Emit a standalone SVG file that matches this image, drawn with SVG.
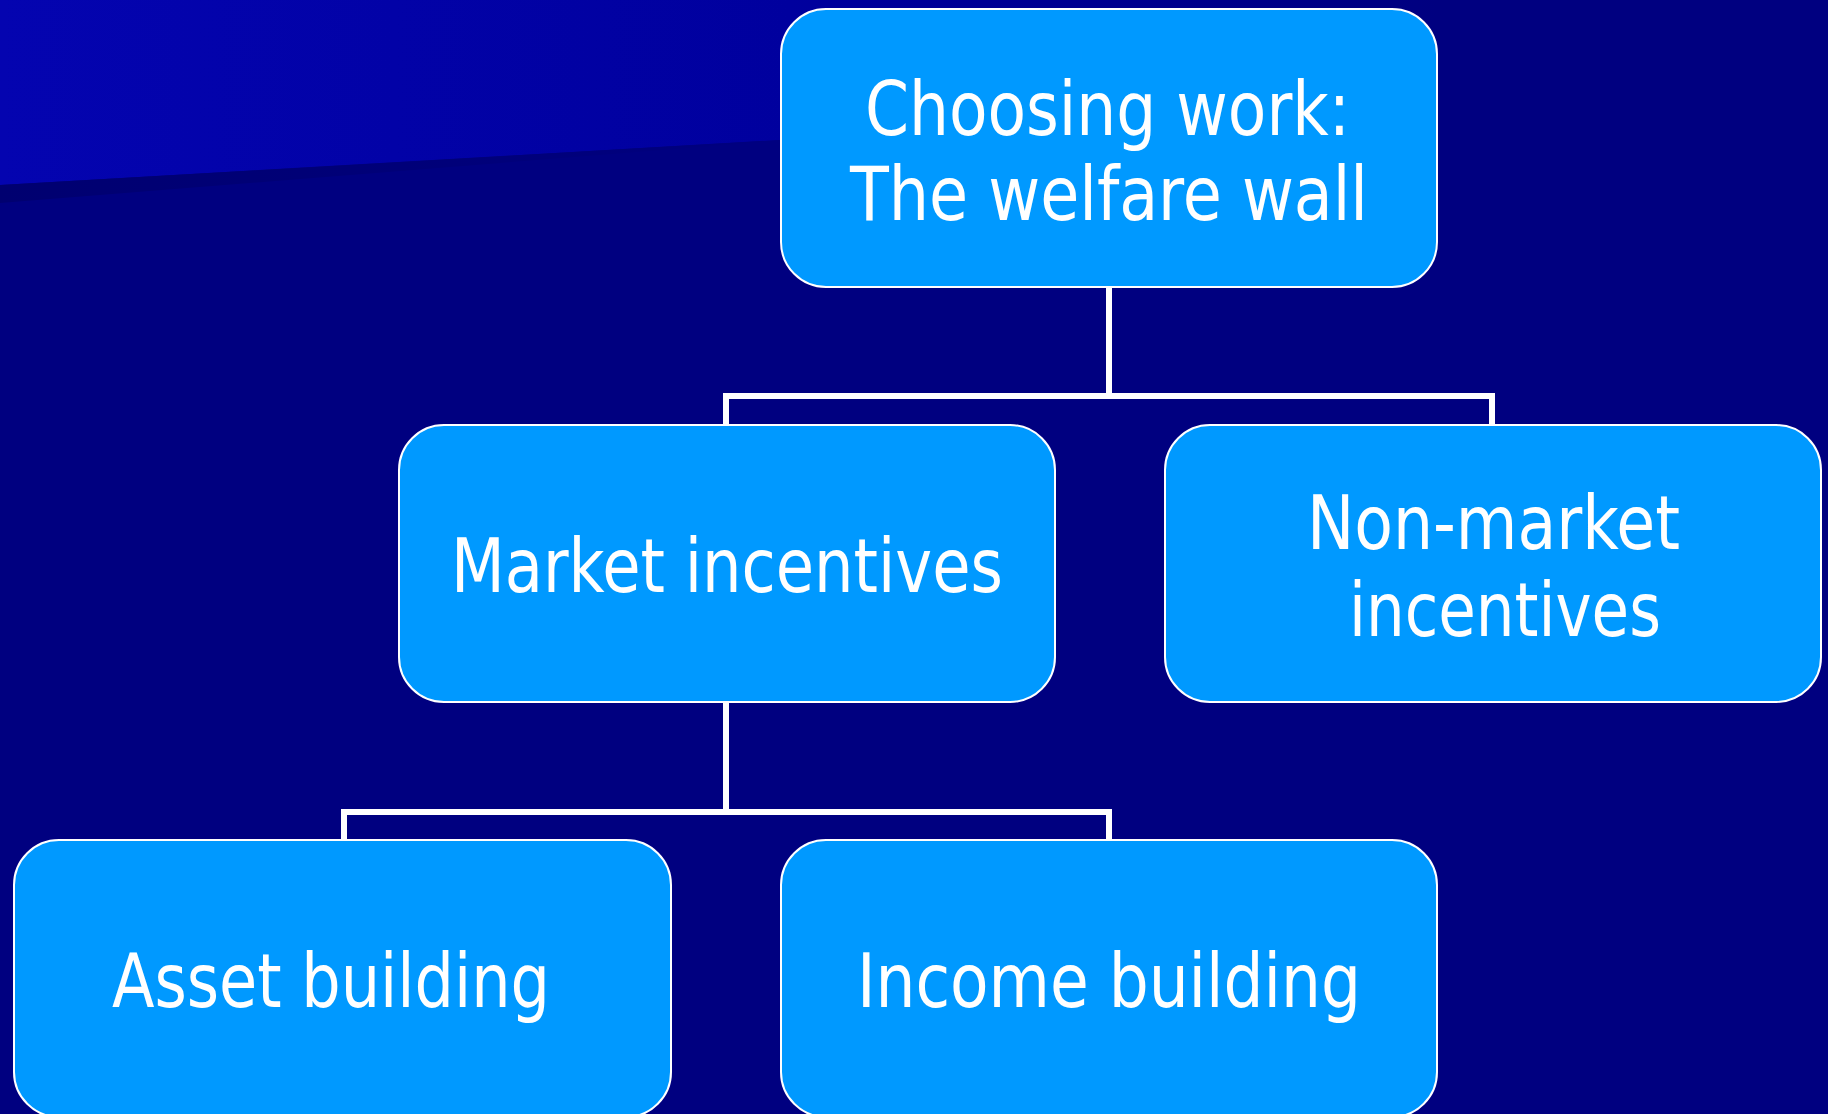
<svg xmlns="http://www.w3.org/2000/svg" width="1828" height="1114" viewBox="0 0 1828 1114">
  <defs>
    <linearGradient id="bandFill" x1="0" y1="0" x2="1437" y2="0" gradientUnits="userSpaceOnUse">
      <stop offset="0" stop-color="#0404B0"/>
      <stop offset="0.55" stop-color="#00009E"/>
      <stop offset="1" stop-color="#000080"/>
    </linearGradient>
    <linearGradient id="bandShadow" x1="0" y1="0" x2="800" y2="0" gradientUnits="userSpaceOnUse">
      <stop offset="0" stop-color="#000070"/>
      <stop offset="1" stop-color="#000080"/>
    </linearGradient>
    <style>
      .node rect { fill: #0099FF; stroke: #FFFFFF; stroke-width: 2; }
      .node text { fill: #FFFFFF; font-family: "DejaVu Sans Condensed", "DejaVu Sans", sans-serif; font-size: 74px; }
      .link { fill: none; stroke: #FFFFFF; stroke-width: 6; stroke-linejoin: miter; stroke-linecap: butt; }
    </style>
  </defs>

  <!-- background -->
  <rect x="0" y="0" width="1828" height="1114" fill="#000080"/>
  <polygon points="0,0 1437,0 1437,102 0,185" fill="url(#bandFill)"/>
  <polygon points="0,185 800,139 0,203" fill="url(#bandShadow)"/>

  <!-- connectors -->
  <g id="connectors">
    <path class="link" d="M1109,287 V396 M726,425 V396 H1492 V425"/>
    <path class="link" d="M726,702 V812 M344,840 V812 H1109 V840"/>
  </g>

  <g id="node-welfare-wall" class="node">
    <rect x="781" y="9" width="656" height="278" rx="45" ry="45"/>
    <text x="865" y="135" textLength="485" lengthAdjust="spacingAndGlyphs">Choosing work:</text>
    <text x="850" y="220" textLength="518" lengthAdjust="spacingAndGlyphs">The welfare wall</text>
  </g>

  <g id="node-market" class="node">
    <rect x="399" y="425" width="656" height="277" rx="45" ry="45"/>
    <text x="451" y="592" textLength="552" lengthAdjust="spacingAndGlyphs">Market incentives</text>
  </g>

  <g id="node-non-market" class="node">
    <rect x="1165" y="425" width="656" height="277" rx="45" ry="45"/>
    <text x="1307" y="549" textLength="373" lengthAdjust="spacingAndGlyphs">Non-market</text>
    <text x="1349" y="636" textLength="312" lengthAdjust="spacingAndGlyphs">incentives</text>
  </g>

  <g id="node-asset" class="node">
    <rect x="14" y="840" width="657" height="277" rx="45" ry="45"/>
    <text x="112" y="1007" textLength="438" lengthAdjust="spacingAndGlyphs">Asset building</text>
  </g>

  <g id="node-income" class="node">
    <rect x="781" y="840" width="656" height="277" rx="45" ry="45"/>
    <text x="857" y="1007" textLength="504" lengthAdjust="spacingAndGlyphs">Income building</text>
  </g>
</svg>
